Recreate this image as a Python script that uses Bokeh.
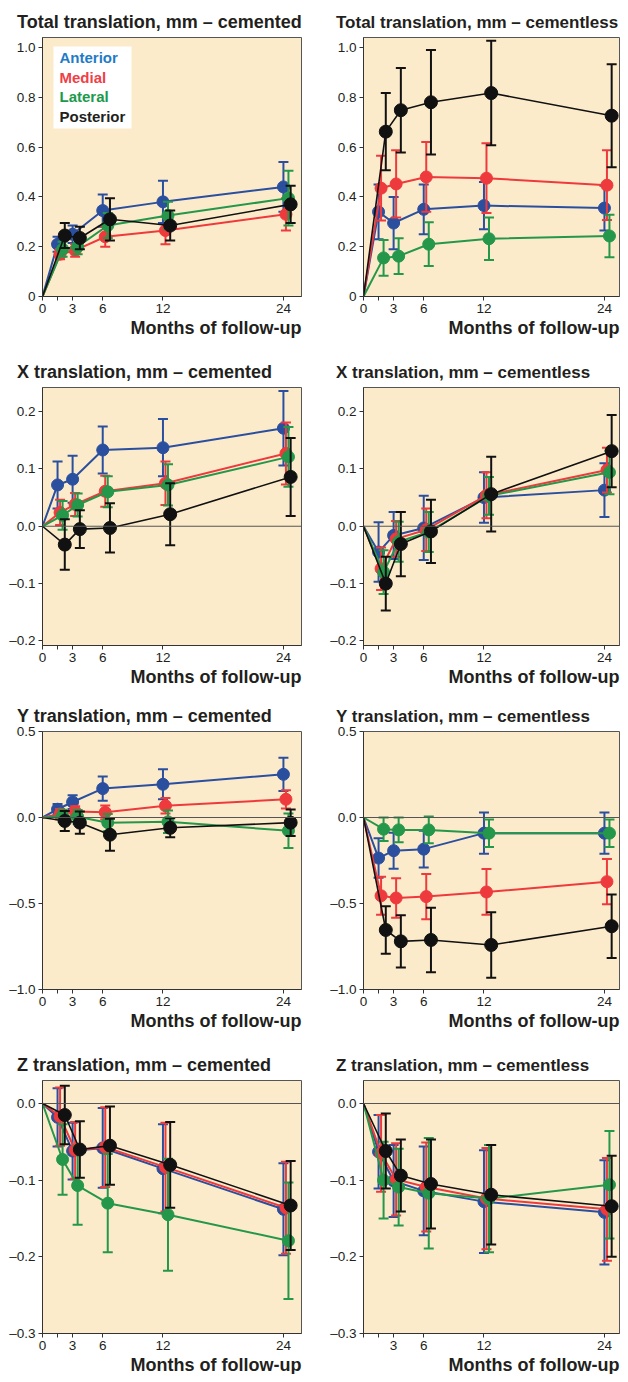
from bokeh.plotting import figure
from bokeh.layouts import column, row
from bokeh.models import Range1d, FixedTicker, Span, BoxAnnotation, Label, Title, ColumnDataSource
from bokeh.embed import file_html
from bokeh.resources import INLINE

# ---------------- data ----------------
MONTHS = [1.5, 3, 6, 12, 24]
SERIES = ["Anterior", "Medial", "Lateral", "Posterior"]
XTICKS = [0, 1.5, 3, 6, 12, 24]
XTICK_LABELS = ["0", "", "3", "6", "12", "24"]
XTICK_LABELS_NO0 = ["", "", "3", "6", "12", "24"]
XLABEL = "Months of follow-up"

TOTAL_YTICKS = [0, 0.2, 0.4, 0.6, 0.8, 1.0]
TOTAL_YLABELS = ["0", "0.2", "0.4", "0.6", "0.8", "1.0"]
X_YTICKS = [-0.2, -0.1, 0.0, 0.1, 0.2]
X_YLABELS = ["–0.2", "–0.1", "0.0", "0.1", "0.2"]
Y_YTICKS = [-1.0, -0.5, 0.0, 0.5]
Y_YLABELS = ["–1.0", "–0.5", "0.0", "0.5"]
Z_YTICKS = [-0.3, -0.2, -0.1, 0.0]
Z_YLABELS = ["–0.3", "–0.2", "–0.1", "0.0"]

# Total translation, cemented
total_cem_ant = [0.21, 0.25, 0.345, 0.38, 0.44]
total_cem_ant_sd = [0.03, 0.035, 0.065, 0.085, 0.10]
total_cem_med = [0.17, 0.185, 0.24, 0.265, 0.33]
total_cem_med_sd = [0.02, 0.025, 0.04, 0.055, 0.065]
total_cem_lat = [0.19, 0.20, 0.285, 0.325, 0.395]
total_cem_lat_sd = [0.03, 0.03, 0.05, 0.055, 0.11]
total_cem_post = [0.245, 0.235, 0.31, 0.285, 0.37]
total_cem_post_sd = [0.05, 0.045, 0.085, 0.06, 0.075]

# Total translation, cementless
total_cl_ant = [0.34, 0.295, 0.35, 0.365, 0.355]
total_cl_ant_sd = [0.11, 0.105, 0.10, 0.095, 0.09]
total_cl_med = [0.435, 0.452, 0.48, 0.475, 0.447]
total_cl_med_sd = [0.13, 0.135, 0.14, 0.14, 0.14]
total_cl_lat = [0.155, 0.162, 0.21, 0.232, 0.243]
total_cl_lat_sd = [0.072, 0.072, 0.088, 0.085, 0.085]
total_cl_post = [0.662, 0.748, 0.78, 0.817, 0.726]
total_cl_post_sd = [0.155, 0.17, 0.21, 0.21, 0.207]

# X translation, cemented
x_cem_ant = [0.072, 0.082, 0.133, 0.137, 0.171]
x_cem_ant_sd = [0.041, 0.041, 0.041, 0.05, 0.065]
x_cem_med = [0.024, 0.038, 0.061, 0.075, 0.127]
x_cem_med_sd = [0.022, 0.02, 0.027, 0.038, 0.054]
x_cem_lat = [0.019, 0.037, 0.06, 0.072, 0.121]
x_cem_lat_sd = [0.025, 0.02, 0.027, 0.036, 0.052]
x_cem_post = [-0.032, -0.005, -0.003, 0.021, 0.086]
x_cem_post_sd = [0.044, 0.033, 0.043, 0.054, 0.068]

# X translation, cementless
x_cl_ant = [-0.045, -0.016, -0.003, 0.05, 0.063]
x_cl_ant_sd = [0.052, 0.041, 0.056, 0.044, 0.047]
x_cl_med = [-0.074, -0.022, -0.006, 0.054, 0.098]
x_cl_med_sd = [0.037, 0.031, 0.037, 0.04, 0.039]
x_cl_lat = [-0.08, -0.027, -0.01, 0.053, 0.094]
x_cl_lat_sd = [0.038, 0.035, 0.035, 0.033, 0.038]
x_cl_post = [-0.1, -0.031, -0.009, 0.056, 0.131]
x_cl_post_sd = [0.047, 0.056, 0.055, 0.065, 0.063]

# Y translation, cemented
y_cem_ant = [0.048, 0.09, 0.168, 0.193, 0.251]
y_cem_ant_sd = [0.03, 0.04, 0.07, 0.087, 0.097]
y_cem_med = [0.02, 0.035, 0.03, 0.068, 0.106]
y_cem_med_sd = [0.03, 0.03, 0.04, 0.045, 0.053]
y_cem_lat = [0.01, 0.004, -0.03, -0.025, -0.077]
y_cem_lat_sd = [0.035, 0.04, 0.05, 0.065, 0.10]
y_cem_post = [-0.02, -0.03, -0.10, -0.06, -0.03]
y_cem_post_sd = [0.058, 0.065, 0.093, 0.055, 0.077]

# Y translation, cementless
y_cl_ant = [-0.236, -0.193, -0.184, -0.091, -0.091]
y_cl_ant_sd = [0.115, 0.105, 0.107, 0.12, 0.12]
y_cl_med = [-0.455, -0.468, -0.46, -0.433, -0.373]
y_cl_med_sd = [0.11, 0.115, 0.132, 0.133, 0.132]
y_cl_lat = [-0.068, -0.072, -0.072, -0.091, -0.091]
y_cl_lat_sd = [0.068, 0.072, 0.078, 0.08, 0.08]
y_cl_post = [-0.654, -0.72, -0.712, -0.741, -0.632]
y_cl_post_sd = [0.138, 0.152, 0.188, 0.19, 0.185]

# Z translation, cemented
z_cem_ant = [-0.018, -0.062, -0.058, -0.085, -0.138]
z_cem_ant_sd = [0.038, 0.037, 0.052, 0.058, 0.06]
z_cem_med = [-0.017, -0.061, -0.057, -0.083, -0.136]
z_cem_med_sd = [0.038, 0.037, 0.052, 0.058, 0.06]
z_cem_lat = [-0.073, -0.107, -0.13, -0.145, -0.179]
z_cem_lat_sd = [0.046, 0.051, 0.064, 0.073, 0.076]
z_cem_post = [-0.015, -0.06, -0.055, -0.08, -0.133]
z_cem_post_sd = [0.038, 0.037, 0.051, 0.056, 0.058]

# Z translation, cementless
z_cl_ant = [-0.063, -0.101, -0.114, -0.128, -0.142]
z_cl_ant_sd = [0.048, 0.047, 0.058, 0.067, 0.068]
z_cl_med = [-0.065, -0.099, -0.109, -0.124, -0.138]
z_cl_med_sd = [0.05, 0.047, 0.058, 0.066, 0.067]
z_cl_lat = [-0.10, -0.109, -0.117, -0.124, -0.106]
z_cl_lat_sd = [0.05, 0.05, 0.072, 0.07, 0.07]
z_cl_post = [-0.062, -0.094, -0.105, -0.119, -0.134]
z_cl_post_sd = [0.049, 0.047, 0.058, 0.065, 0.066]

# ---------------- style ----------------
FONT = "Liberation Sans"
TEXT = "#231F20"
BG = "#FCEBCB"
LINE_COLORS = ["#2B4F9F", "#EE3A3C", "#24974B", "#111111"]
LEGEND_COLORS = ["#1F7BC6", "#EF4047", "#1B9A4B", "#231F20"]
OFFSETS = [0.0, 0.25, 0.5, 0.72]
MARKER_SIZES = [12, 12, 12, 13]
LINE_WIDTHS = [2, 2, 2, 1.6]

# column geometry: (width, border left, border right, title offset, title size, x max)
COLS = [(314, 42, 13, -25.5, "18px", 25.8), (306, 49, 1, -27.5, "17px", 25.5)]
# row geometry: (height, border top, border bottom)
ROWS = [(343, 37, 47), (346, 44, 44), (342, 42, 42), (343, 49, 41)]


def make_panel(title, means, sds, yrange, yticks, ylabels, xlabels,
               col, rw, zero_line=True, legend=False):
    width, left, right, toff, tsize, xmax = COLS[col]
    height, top, bottom = ROWS[rw]
    p = figure(width=width, height=height, title=title,
               x_range=Range1d(0, xmax), y_range=Range1d(*yrange),
               output_backend="svg", toolbar_location=None,
               min_border_left=left, min_border_right=right,
               min_border_top=top, min_border_bottom=bottom,
               background_fill_color=BG, border_fill_color="white")
    p.title.align = "left"
    p.title.offset = toff
    p.title.text_font = FONT
    p.title.text_font_size = tsize
    p.title.text_font_style = "bold"
    p.title.text_color = TEXT
    p.title.standoff = 12
    p.outline_line_color = "#555555"
    p.outline_line_width = 1
    p.xgrid.visible = False
    p.ygrid.visible = False

    for ax in (p.xaxis[0], p.yaxis[0]):
        ax.axis_line_color = "#333333"
        ax.major_tick_line_color = "#333333"
        ax.major_tick_in = 0
        ax.major_tick_out = 4
        ax.minor_tick_line_color = None
        ax.major_label_text_font = FONT
        ax.major_label_text_font_size = "13.5px"
        ax.major_label_text_color = TEXT
        ax.major_label_standoff = 3
    p.xaxis.ticker = FixedTicker(ticks=XTICKS)
    p.xaxis.major_label_overrides = dict(zip(XTICKS, xlabels))
    p.yaxis.ticker = FixedTicker(ticks=yticks)
    p.yaxis.major_label_overrides = dict(zip(yticks, ylabels))

    p.add_layout(Title(text=XLABEL, align="right", text_font=FONT,
                       text_font_size="18px", text_font_style="bold",
                       text_color=TEXT, standoff=0), "below")

    if zero_line:
        p.add_layout(Span(location=0, dimension="width", line_color="#555555",
                          line_width=1))

    for i in range(4):
        c = LINE_COLORS[i]
        xs = [m + OFFSETS[i] for m in MONTHS]
        mean = means[i]
        sd = sds[i]
        lo = [m - s for m, s in zip(mean, sd)]
        hi = [m + s for m, s in zip(mean, sd)]
        src = ColumnDataSource(dict(x=xs, y=mean, lo=lo, hi=hi))
        p.line([0] + xs, [0] + mean, line_color=c, line_width=LINE_WIDTHS[i])
        p.segment(x0="x", y0="lo", x1="x", y1="hi", source=src,
                  line_color=c, line_width=2)
        p.scatter(x="x", y="lo", source=src, marker="dash", size=10,
                  line_color=c, line_width=2)
        p.scatter(x="x", y="hi", source=src, marker="dash", size=10,
                  line_color=c, line_width=2)
        p.scatter(x="x", y="y", source=src, marker="circle",
                  size=MARKER_SIZES[i], fill_color=c, line_color=c)

    if legend:
        p.add_layout(BoxAnnotation(left=11, right=89, top=250, bottom=168,
                                   left_units="screen", right_units="screen",
                                   top_units="screen", bottom_units="screen",
                                   fill_color="white", fill_alpha=1.0,
                                   line_color=None))
        ys = [238.7, 219, 200, 180.5]
        for name, lc, yy in zip(SERIES, LEGEND_COLORS, ys):
            p.add_layout(Label(x=17, y=yy, x_units="screen", y_units="screen",
                               text=name, text_color=lc, text_font=FONT,
                               text_font_size="15px", text_font_style="bold",
                               text_baseline="middle"))
    return p


p1 = make_panel("Total translation, mm – cemented",
                [total_cem_ant, total_cem_med, total_cem_lat, total_cem_post],
                [total_cem_ant_sd, total_cem_med_sd, total_cem_lat_sd, total_cem_post_sd],
                (0, 1.04), TOTAL_YTICKS, TOTAL_YLABELS, XTICK_LABELS,
                0, 0, zero_line=False, legend=True)
p2 = make_panel("Total translation, mm – cementless",
                [total_cl_ant, total_cl_med, total_cl_lat, total_cl_post],
                [total_cl_ant_sd, total_cl_med_sd, total_cl_lat_sd, total_cl_post_sd],
                (0, 1.04), TOTAL_YTICKS, TOTAL_YLABELS, XTICK_LABELS,
                1, 0, zero_line=False)
p3 = make_panel("X translation, mm – cemented",
                [x_cem_ant, x_cem_med, x_cem_lat, x_cem_post],
                [x_cem_ant_sd, x_cem_med_sd, x_cem_lat_sd, x_cem_post_sd],
                (-0.208, 0.242), X_YTICKS, X_YLABELS, XTICK_LABELS, 0, 1)
p4 = make_panel("X translation, mm – cementless",
                [x_cl_ant, x_cl_med, x_cl_lat, x_cl_post],
                [x_cl_ant_sd, x_cl_med_sd, x_cl_lat_sd, x_cl_post_sd],
                (-0.208, 0.242), X_YTICKS, X_YLABELS, XTICK_LABELS, 1, 1)
p5 = make_panel("Y translation, mm – cemented",
                [y_cem_ant, y_cem_med, y_cem_lat, y_cem_post],
                [y_cem_ant_sd, y_cem_med_sd, y_cem_lat_sd, y_cem_post_sd],
                (-1.0, 0.5), Y_YTICKS, Y_YLABELS, XTICK_LABELS, 0, 2)
p6 = make_panel("Y translation, mm – cementless",
                [y_cl_ant, y_cl_med, y_cl_lat, y_cl_post],
                [y_cl_ant_sd, y_cl_med_sd, y_cl_lat_sd, y_cl_post_sd],
                (-1.0, 0.5), Y_YTICKS, Y_YLABELS, XTICK_LABELS, 1, 2)
p7 = make_panel("Z translation, mm – cemented",
                [z_cem_ant, z_cem_med, z_cem_lat, z_cem_post],
                [z_cem_ant_sd, z_cem_med_sd, z_cem_lat_sd, z_cem_post_sd],
                (-0.3, 0.03), Z_YTICKS, Z_YLABELS, XTICK_LABELS, 0, 3)
p8 = make_panel("Z translation, mm – cementless",
                [z_cl_ant, z_cl_med, z_cl_lat, z_cl_post],
                [z_cl_ant_sd, z_cl_med_sd, z_cl_lat_sd, z_cl_post_sd],
                (-0.3, 0.03), Z_YTICKS, Z_YLABELS, XTICK_LABELS_NO0, 1, 3)

layout = column(row(p1, p2), row(p3, p4), row(p5, p6), row(p7, p8))
open("out.html", "w").write(file_html(layout, INLINE))
